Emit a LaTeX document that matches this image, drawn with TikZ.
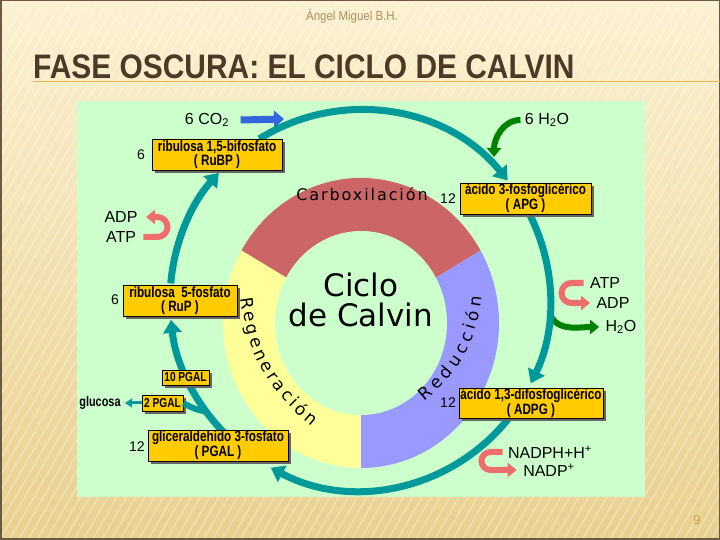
\documentclass[tikz,border=0pt]{standalone}
\usepackage{fontspec}
\setmainfont{Liberation Sans}
\newfontfamily\boxfont[FakeStretch=0.78]{Liberation Sans}
\newfontfamily\titlefont[FakeStretch=0.88]{Liberation Sans}
\newfontfamily\ringfont{DejaVu Sans}
\newfontfamily\ringfontsp[LetterSpace=12]{DejaVu Sans}
\usetikzlibrary{arrows.meta, shadows, decorations.text, patterns.meta, calc}

\definecolor{panel}{RGB}{204,255,204}
\definecolor{cycle}{RGB}{0,153,153}
\definecolor{carbox}{RGB}{204,102,102}
\definecolor{regen}{RGB}{255,255,153}
\definecolor{reduc}{RGB}{153,153,255}
\definecolor{boxfill}{RGB}{255,204,0}
\definecolor{pinkarr}{RGB}{238,110,110}
\definecolor{greenarr}{RGB}{0,130,0}
\definecolor{bluearr}{RGB}{51,102,221}
\definecolor{titlebrown}{RGB}{75,58,38}
\definecolor{bgtop}{RGB}{252,241,208}
\definecolor{bgbot}{RGB}{232,208,142}
\definecolor{frame}{RGB}{107,90,64}
\definecolor{rulecol}{RGB}{226,178,80}
\definecolor{author}{RGB}{168,144,96}
\definecolor{pagenum}{RGB}{212,160,64}

\tikzset{
  compound/.style={draw=black, line width=0.8pt, fill=boxfill, inner sep=0pt,
    font=\boxfont\bfseries\fontsize{15}{14}\selectfont, align=center,
    drop shadow={shadow xshift=3pt, shadow yshift=-3pt, fill=black!60, opacity=1}},
  smallcompound/.style={compound, font=\boxfont\bfseries\fontsize{13}{13}\selectfont},
  numlabel/.style={font=\fontsize{14}{14}\selectfont},
  chem/.style={font=\fontsize{16}{16}\selectfont},
  ringlabel/.style={decorate, decoration={text along path, text align={fit to path},
    text={|\ringfont\fontsize{17}{17}\selectfont|#1}}},
  cyclearrow/.style={draw=cycle, line width=7pt, -{Triangle[length=13pt,width=18pt]}},
  pinkarrow/.style={draw=pinkarr, line width=6pt, -{Triangle[length=9pt,width=14pt]}},
  greenarrow/.style={draw=greenarr, line width=6pt, -{Triangle[length=9pt,width=14pt]}},
}

\begin{document}
\begin{tikzpicture}[x=1pt, y=1pt]
	\useasboundingbox (0,0) rectangle (720,540);
	\shade[top color=bgtop, bottom color=bgbot] (0,0) rectangle (720,540);
	\fill[pattern={Lines[angle=60, distance=8pt, line width=2pt]}, pattern color=white, opacity=0.25] (0,0) rectangle (720,540);
	\draw[frame, line width=1.5pt] (0.75,0.75) rectangle (719.25,539.25);

	\node[font=\titlefont\fontsize{13}{13}\selectfont, text=author] (author) at (352,524) {Ángel Miguel B.H.};
	\node[font=\titlefont\bfseries\fontsize{34}{34}\selectfont, text=titlebrown, anchor=base west, inner sep=0pt] (title) at (33,461) {FASE OSCURA: EL CICLO DE CALVIN};
	\draw[rulecol, line width=1pt] (title.base west) ++(0,-3) -- (720,458);
	\node[font=\fontsize{13}{13}\selectfont, text=pagenum] (page) at (697,20) {9};

	\fill[panel] (77,43) rectangle (645,439);

	% ring
	\coordinate (rc) at (361,217);
	\fill[carbox] (rc) -- ($(rc)+(30:138 and 145)$) arc[start angle=30, end angle=150, x radius=138, y radius=145] -- cycle;
	\fill[regen] (rc) -- ($(rc)+(150:138 and 145)$) arc[start angle=150, end angle=270, x radius=138, y radius=145] -- cycle;
	\fill[reduc] (rc) -- ($(rc)+(-90:138 and 145)$) arc[start angle=-90, end angle=30, x radius=138, y radius=145] -- cycle;
	\fill[panel] (rc) ellipse[x radius=86, y radius=92];

	\node[font=\ringfontsp\fontsize{16}{16}\selectfont] (carb) at (362,346) {Carboxilación};
	\node[font=\ringfont\fontsize{31}{30}\selectfont, align=center] (ciclo) at (361,240) {Ciclo\\de Calvin};
	\coordinate (regenA) at (241,242);
	\coordinate (regenB) at (312,114);
	\path[ringlabel=Regeneración] (regenA) to[bend right=22] (regenB);
	\coordinate (reducA) at (424,139);
	\coordinate (reducB) at (482,243);
	\path[ringlabel=Reducción] (reducA) to[bend right=22] (reducB);

	% side arrows
	\coordinate (cc) at (360,240);
	\node[chem] (co2) at (207,420) {6 CO\textsubscript{2}};
	\coordinate (co2tip) at (284,421);
	\draw[draw=bluearr, line width=7pt, -{Triangle[length=10pt,width=17pt]}] ([xshift=8pt]co2.east) -- (co2tip);

	\node[chem] (h2otop) at (547,420) {6 H\textsubscript{2}O};
	\coordinate (h2otip) at (494,383);
	\draw[greenarrow] ([xshift=-1pt]h2otop.west) to[out=180, in=90] (h2otip);

	\node[chem] (adpL) at (121,323) {ADP};
	\node[chem] (atpL) at (121,303) {ATP};
	\draw[pinkarrow] ([xshift=4pt]atpL.east) -- ++(14,0) arc[start angle=-90, end angle=90, radius=10] -- ([xshift=5pt]adpL.east);

	\node[chem] (atpR) at (605,257) {ATP};
	\node[chem] (adpR) at (613,237) {ADP};
	\node[chem] (h2oR) at (621,213) {H\textsubscript{2}O};
	\draw[greenarrow] ($(cc)+(-4:190)$) to[out=-70, in=180] ([xshift=-3pt]h2oR.west);
	\draw[pinkarrow] ([xshift=-3pt]atpR.west) -- ++(-12,0) arc[start angle=90, end angle=270, radius=10] -- ([xshift=-3pt]adpR.west);

	\node[chem] (nadph) at (550,88) {NADPH+H\textsuperscript{+}};
	\node[chem] (nadp) at (549,70) {NADP\textsuperscript{+}};
	\draw[pinkarrow] ([xshift=-2pt]nadph.west) -- ++(-12,0) arc[start angle=90, end angle=270, radius=9] -- ([xshift=-3pt]nadp.west);

	% cycle
	\draw[cyclearrow] ($(cc)+(122:190)$) arc[start angle=122, end angle=39, radius=190];
	\draw[cyclearrow] ($(cc)+(30:190)$) arc[start angle=30, end angle=-26, radius=190];
	\draw[cyclearrow] ($(cc)+(-35:190)$) arc[start angle=-35, end angle=-118, radius=190];
	\draw[cyclearrow] ($(cc)+(228:190)$) arc[start angle=228, end angle=186, radius=190];
	\draw[cyclearrow] ($(cc)+(175:190)$) arc[start angle=175, end angle=138, radius=190];

	\node[smallcompound, minimum width=41pt, minimum height=16pt] (pgal2) at (162.5,137) {2 PGAL};
	\draw[draw=cycle, line width=6pt] ($(cc)+(216:190)$) to[bend left=10] (pgal2.east);
	\node[font=\boxfont\bfseries\fontsize{14}{14}\selectfont] (glucosa) at (100,137) {glucosa};
	\draw[draw=cycle, line width=3pt, -{Triangle[length=7pt,width=9pt]}] (pgal2.west) -- ([xshift=1pt]glucosa.east);

	% compounds
	\node[compound, minimum width=130pt, minimum height=31pt] (rubp) at (217,385.5) {ribulosa 1,5-bifosfato\\( RuBP )};
	\node[compound, minimum width=131pt, minimum height=31pt] (apg) at (525.5,341.5) {ácido 3-fosfoglicérico\\( APG )};
	\node[compound, minimum width=114pt, minimum height=31pt] (rup) at (180,239.5) {ribulosa \ 5-fosfato\\( RuP )};
	\node[compound, minimum width=144pt, minimum height=30pt] (adpg) at (531,137) {ácido 1,3-difosfoglicérico\\( ADPG )};
	\node[compound, minimum width=140pt, minimum height=31pt] (pgal) at (218,94.5) {gliceraldehido 3-fosfato\\( PGAL )};
	\node[smallcompound, minimum width=47pt, minimum height=15pt] (pgal10) at (185.5,162.5) {10 PGAL};

	\node[numlabel] (nrubp) at (141,385) {6};
	\node[numlabel] (napg) at (448,341) {12};
	\node[numlabel] (nrup) at (115,240) {6};
	\node[numlabel] (nadpg) at (448,137) {12};
	\node[numlabel] (npgal) at (137,93) {12};
\end{tikzpicture}
\end{document}
